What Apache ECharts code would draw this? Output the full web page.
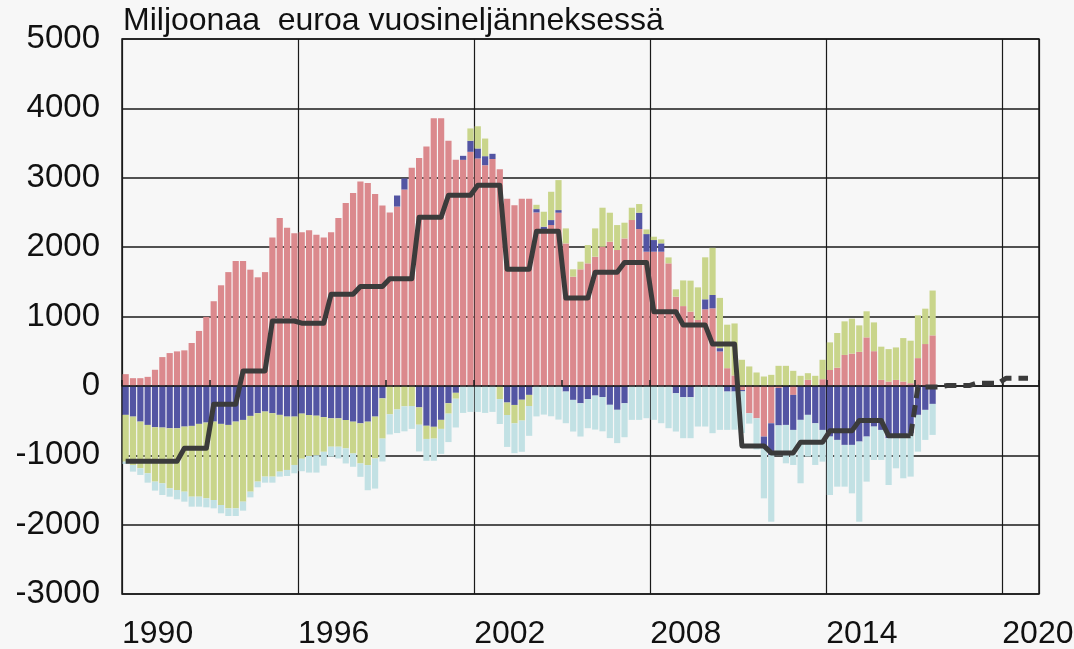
<!DOCTYPE html>
<html><head><meta charset="utf-8">
<script src="https://cdn.jsdelivr.net/npm/echarts@6/dist/echarts.min.js"></script>
<style>html,body{margin:0;padding:0;background:#f7f7f7}#c{width:1074px;height:649px}</style>
</head><body><div id="c"></div>
<script>
const titleText = 'Miljoonaa  euroa vuosineljänneksessä';
const startYear = 1990;
const endYear = 2021; // axis runs to 2021Q1
const yearLabels = ['1990', '1996', '2002', '2008', '2014', '2020'];

// Quarterly values 1990Q1 .. 2017Q3
const pink = [169,111,111,130, 232,415,473,497, 512,618,792,995, 1220,1450,1640,1800,
  1800,1675,1565,1640, 2140,2420,2280,2200, 2215,2245,2180,2140, 2215,2420,2635,2780,
  2945,2925,2765,2600, 2500,2585,2830,3145, 3285,3450,3856,3856, 3533,3258,3258,3374,
  3278,3181,3270,3123, 2699,2603,2699,2699, 2500,2256,2318,2496, 2054,1574,1680,1766,
  1862,2006,2078,1958, 2126,2390,2261,1934, 1934,1934,1766,1286, 1150,1070,950,1104,
  1118,496,255,150, -60,-394,-466,-731, -539,-30,0,-130, 0,87,0,96,
  229,262,446,465, 490,699,500,87, 62,86,62,38, 400,603,728];
const blue = [-418,-443,-515,-563, -596,-601,-611,-611, -587,-577,-548,-529, -515,-548,-563,-515,
  -491,-433,-394,-370, -394,-418,-443,-443, -400,-420,-430,-450, -468,-468,-492,-516,
  -540,-516,-443,-180, 0,159,160,0, -310,-575,-590,-490, -250,-100,58,159,
  144,130,75,0, -240,-275,-200,-130, 48,38,72,38, -82,-202,-250,-190,
  -140,-160,-273,-345, -250,0,235,254, 168,120,0,-106, -163,-163,0,144,
  192,48,-82,-82, -20,0,0,-144, -457,-540,-563,-505, -490,-418,-539,-635,
  -731,-779,-851,-851, -803,-731,-587,-635, -755,-731,-731,-683, -418,-346,-260];
const green = [-674,-697,-673,-697, -784,-804,-866,-890, -938,-1020,-1049,-1092, -1130,-1169,-1202,-1250,
  -1178,-1092,-986,-938, -914,-818,-769,-697, -650,-590,-570,-500, -409,-409,-409,-458,
  -578,-626,-603,-580, -410,-340,-295,-290, -250,-190,-170,-130, -150,-85,0,178,
  320,254,0,-190, -180,-265,-300,-160, 62,216,408,432, 216,106,110,264,
  408,562,418,360, 226,178,125,67, 48,58,86,106, 370,447,470,605,
  680,724,627,750, 376,280,193,135, 159,289,289,217, 145,96,145,280,
  398,500,484,504, 382,376,415,478, 468,468,627,613, 617,510,646];
const lightBlue = [-34,-96,-96,-135, -130,-168,-120,-134, -144,-144,-144,-130, -120,-120,-111,-111,
  -130,-82,-82,-87, -87,-72,-87,-120, -180,-240,-250,-200, -145,-169,-217,-192,
  -193,-362,-434,-330, -290,-340,-360,-330, -385,-315,-320,-360, -410,-415,-390,-375,
  -375,-390,-375,-360, -460,-430,-450,-430, -440,-414,-438,-486, -456,-456,-480,-420,
  -490,-495,-480,-480, -490,-490,-490,-466, -490,-538,-610,-552, -591,-591,-586,-586,
  -682,-634,-552,-550, -600,-150,-450,-746, -962,-430,-553,-505, -914,-602,-601,-457,
  -842,-674,-602,-698, -1155,-649,-481,-433, -674,-457,-601,-625, -530,-433,-447];

// Annual values of the line (repeated for each quarter), 1990..2016, and forecast 2017..2020
const lineAnnual = [-1085,-1085,-900,-265,215,935,903,1320,1432,1545,2430,2748,2893,1682,
  2228,1265,1638,1780,1068,877,603,-865,-966,-812,-648,-500,-720];
const forecastAnnual = [-15,5,38,110];

const FONT = "'Liberation Sans', Arial, Helvetica, sans-serif";

// quarter categories 1990Q1 .. 2021Q1
const quarters = [];
for (let y = startYear; y <= endYear; y++) {
  for (let q = 1; q <= 4; q++) {
    if (y === endYear && q > 1) break;
    quarters.push(y + 'Q' + q);
  }
}
const NQ = quarters.length; // 125
const XMAX = NQ / 4;

const lineData = [];
lineAnnual.forEach(v => { for (let q = 0; q < 4; q++) lineData.push(v); });
const dashData = new Array(lineData.length - 1).fill(null);
dashData.push(lineAnnual[lineAnnual.length - 1]);
forecastAnnual.forEach(v => { for (let q = 0; q < 4; q++) dashData.push(v); });

const chart = echarts.init(document.getElementById('c'), null, { renderer: 'canvas' });
const barCommon = { type: 'bar', stack: 'total', barWidth: 6.2, xAxisIndex: 2, animation: false, z: 2 };
const AX = '#1a1a1a';

chart.setOption({
  backgroundColor: '#f7f7f7',
  animation: false,
  title: {
    text: titleText, left: 118, top: 0,
    textStyle: { fontSize: 32, fontWeight: 'normal', color: '#111', fontFamily: FONT }
  },
  grid: {
    left: 122, right: 35, top: 39, bottom: 55, containLabel: false, outerBoundsMode: 'none',
    show: true, borderColor: AX, borderWidth: 1.5, backgroundColor: 'transparent'
  },
  xAxis: [
    {
      type: 'value', min: 0, max: XMAX, interval: 6, position: 'bottom',
      axisLine: { show: false, onZero: false }, axisTick: { show: false },
      splitLine: { show: true, lineStyle: { color: AX, width: 1.2 } },
      axisLabel: {
        fontSize: 32, fontFamily: FONT, color: '#111', align: 'left', margin: 24,
        showMaxLabel: false, hideOverlap: false,
        formatter: v => (Math.abs(v / 6 - Math.round(v / 6)) < 1e-6 ? (yearLabels[Math.round(v / 6)] || '') : '')
      }
    },
    {
      type: 'value', min: 0, max: XMAX, interval: 3, position: 'bottom', z: 5,
      axisLine: { show: true, onZero: true, lineStyle: { color: AX, width: 1.6 } },
      axisTick: { show: true, inside: true, length: 6, lineStyle: { color: AX, width: 1.5 } },
      axisLabel: { show: false }, splitLine: { show: false }
    },
    {
      type: 'category', data: quarters, boundaryGap: true, show: false,
      axisLine: { onZero: false }
    }
  ],
  yAxis: {
    type: 'value', min: -3000, max: 5000, interval: 1000,
    axisLine: { show: false }, axisTick: { show: false },
    splitLine: { lineStyle: { color: AX, width: 1.6 } },
    axisLabel: { fontSize: 33, fontFamily: FONT, color: '#111', margin: 22, formatter: v => String(v) }
  },
  series: [
    Object.assign({ name: 'pink', data: pink, itemStyle: { color: '#db898d' } }, barCommon),
    Object.assign({ name: 'blue', data: blue, itemStyle: { color: '#5355a3' } }, barCommon),
    Object.assign({ name: 'green', data: green, itemStyle: { color: '#c9d58b' } }, barCommon),
    Object.assign({ name: 'lightblue', data: lightBlue, itemStyle: { color: '#c2e1e4' } }, barCommon),
    { type: 'line', data: lineData, xAxisIndex: 2, showSymbol: false, symbol: 'none', z: 6,
      lineStyle: { color: '#3b3b3b', width: 5, join: 'round' }, animation: false },
    { type: 'line', data: dashData, xAxisIndex: 2, showSymbol: false, symbol: 'none', z: 6, connectNulls: false,
      lineStyle: { color: '#3b3b3b', width: 5, type: [12, 7] }, animation: false }
  ]
});
</script></body></html>
